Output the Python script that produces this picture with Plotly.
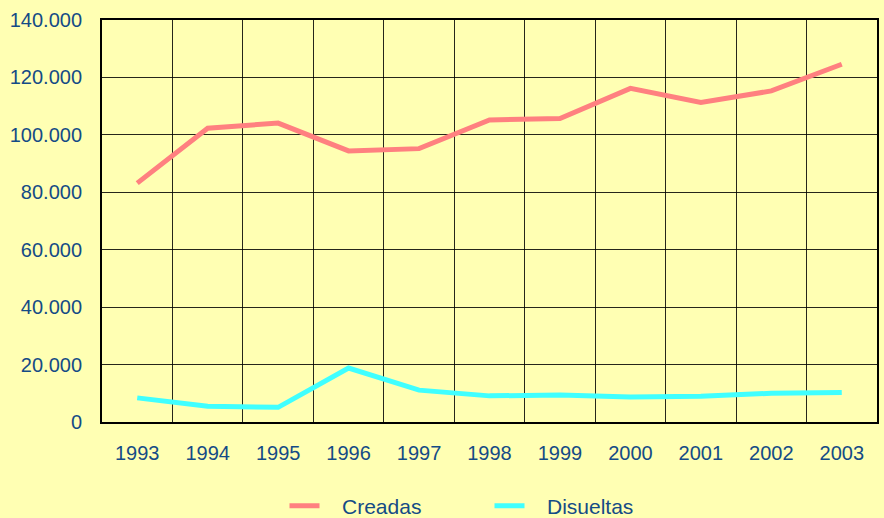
import plotly.graph_objects as go

years = [1993, 1994, 1995, 1996, 1997, 1998, 1999, 2000, 2001, 2002, 2003]
creadas = [83200, 102300, 104100, 94400, 95200, 105200, 105700, 116200, 111300, 115300, 124600]
disueltas = [8400, 5500, 5100, 18800, 11100, 9100, 9400, 8700, 9000, 10000, 10300]
ytick_vals = [0, 20000, 40000, 60000, 80000, 100000, 120000, 140000]
ytick_text = ["0", "20.000", "40.000", "60.000", "80.000", "100.000", "120.000", "140.000"]

bg = "#FFFFB3"
txt = "#144B86"
pad = "\u00a0\u00a0\u00a0"

fig = go.Figure()
fig.add_trace(go.Scatter(x=years, y=creadas, name=pad + "Creadas", mode="lines",
                         line=dict(color="#FF8080", width=5)))
fig.add_trace(go.Scatter(x=years, y=disueltas, name=pad + "Disueltas", mode="lines",
                         line=dict(color="#40FFFF", width=5)))

fig.update_layout(
    width=884, height=518,
    paper_bgcolor=bg, plot_bgcolor=bg,
    margin=dict(l=102, r=7, t=20, b=96, autoexpand=False),
    font=dict(family="Liberation Sans, Arial", size=20, color=txt),
    showlegend=True,
    legend=dict(orientation="h", x=0.5, xanchor="center", y=-0.158, yanchor="top",
                font=dict(size=21, color=txt), entrywidth=160, bgcolor="rgba(0,0,0,0)"),
)
fig.update_xaxes(
    range=[1992.5, 2003.5], tickmode="array", tickvals=years,
    ticktext=[str(y) for y in years], showgrid=False, zeroline=False,
    showline=True, linecolor="black", linewidth=2, mirror=True,
    ticks="", ticklabelstandoff=12, automargin=False,
    minor=dict(tickvals=[y + 0.5 for y in years[:-1]], showgrid=True,
               gridcolor="rgba(0,0,0,0.85)", gridwidth=1, ticks=""),
)
fig.update_yaxes(
    range=[0, 140000], tickmode="array", tickvals=ytick_vals, ticktext=ytick_text,
    showgrid=True, gridcolor="rgba(0,0,0,0.85)", gridwidth=1, zeroline=False,
    showline=True, linecolor="black", linewidth=2, mirror=True, ticks="",
    ticklabelstandoff=14, automargin=False,
)
fig.write_html("out.html", config={"displayModeBar": False},
               post_script="document.body.style.margin='0';")
